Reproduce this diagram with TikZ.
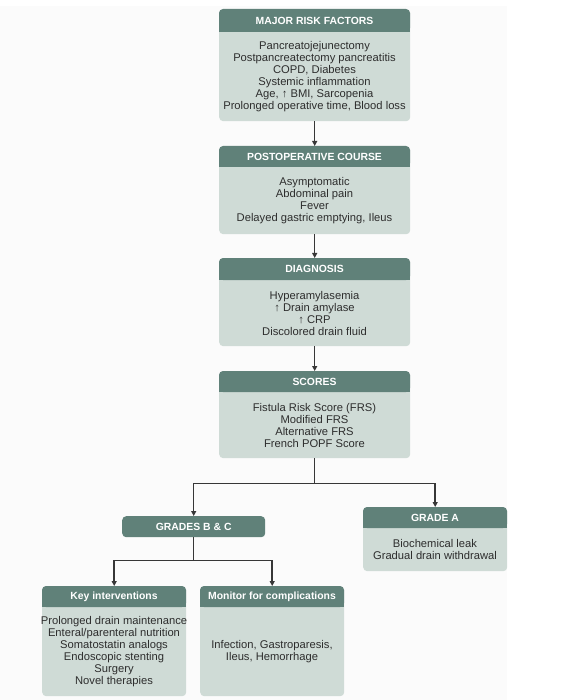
\documentclass[tikz,border=0pt]{standalone}
\usepackage{fontspec}
\setmainfont{Liberation Sans}
\usetikzlibrary{arrows.meta,calc}
\definecolor{hdcol}{RGB}{96,129,121}
\definecolor{bdcol}{RGB}{207,219,214}
\definecolor{lncol}{RGB}{55,55,55}
\definecolor{txcol}{RGB}{45,45,45}
\definecolor{bgcol}{RGB}{251,251,251}
\tikzset{
  boxbody/.style={fill=bdcol, rounded corners=4pt, draw=none, inner sep=0pt, anchor=north west},
  hdbox/.style={fill=hdcol, rounded corners=4pt, draw=none, inner sep=0pt, anchor=north west},
  hdtext/.style={text=white, font=\fontsize{10.4}{12}\selectfont\bfseries, inner sep=0pt},
  bdtext/.style={text=txcol, font=\fontsize{11.2}{12}\selectfont, align=center, inner sep=0pt},
  conn/.style={draw=lncol, line width=1.5pt},
  arr/.style={conn, -{Triangle[length=5pt,width=5pt]}},
}
% name, x, y, w, h, header height, title, body
\newcommand{\flowbox}[8]{%
  \node[boxbody, minimum width=#4pt, minimum height=#5pt] (#1) at (#2,#3) {};
  \fill[hdcol, rounded corners=4pt] (#2,#3) rectangle ({#2+#4},{#3+#6});
  \fill[hdcol] (#2,{#3+#6/2}) rectangle ({#2+#4},{#3+#6});
  \node[hdtext] (#1h) at ({#2+#4/2},{#3+#6/2}) {#7};
  \node[bdtext] (#1t) at ({#2+#4/2},{#3+#6+(#5-#6)/2}) {#8};
}
\begin{document}
\begin{tikzpicture}[x=1pt,y=-1pt]
\useasboundingbox (0,0) rectangle (561,700);
\fill[bgcol] (0,6) rectangle (507,700);

\flowbox{b1}{219}{9}{191}{112}{23}{MAJOR RISK FACTORS}{Pancreatojejunectomy\\Postpancreatectomy pancreatitis\\COPD, Diabetes\\Systemic inflammation\\Age, ↑ BMI, Sarcopenia\\Prolonged operative time, Blood loss}
\flowbox{b2}{219}{146}{191}{88}{21}{POSTOPERATIVE COURSE}{Asymptomatic\\Abdominal pain\\Fever\\Delayed gastric emptying, Ileus}
\flowbox{b3}{219}{258}{191}{88}{22}{DIAGNOSIS}{Hyperamylasemia\\↑ Drain amylase\\↑ CRP\\Discolored drain fluid}
\flowbox{b4}{219}{371}{191}{87}{21}{SCORES}{Fistula Risk Score (FRS)\\Modified FRS\\Alternative FRS\\French POPF Score}
\flowbox{ga}{363}{507}{144}{64}{21}{GRADE A}{Biochemical leak\\Gradual drain withdrawal}
\node[hdbox, minimum width=143pt, minimum height=21pt] (gbc) at (122,516) {};
\node[hdtext] (gbch) at (gbc.center) {GRADES B \& C};
\flowbox{ki}{42}{586}{144}{110}{21}{Key interventions}{Prolonged drain maintenance\\Enteral/parenteral nutrition\\Somatostatin analogs\\Endoscopic stenting\\Surgery\\Novel therapies}
\flowbox{mc}{200}{586}{144}{110}{21}{Monitor for complications}{Infection, Gastroparesis,\\Ileus, Hemorrhage}

\draw[arr] (b1.south) -- (b2.north);
\draw[arr] (b2.south) -- (b3.north);
\draw[arr] (b3.south) -- (b4.north);
\coordinate (j1) at ([yshift=-25pt]b4.south);
\draw[conn] (b4.south) -- (j1);
\draw[arr] (j1) -| (gbc.north);
\draw[arr] (j1) -| (ga.north);
\coordinate (j2) at ([yshift=-23pt]gbc.south);
\draw[conn] (gbc.south) -- (j2);
\draw[arr] (j2) -| (ki.north);
\draw[arr] (j2) -| (mc.north);
\end{tikzpicture}
\end{document}
